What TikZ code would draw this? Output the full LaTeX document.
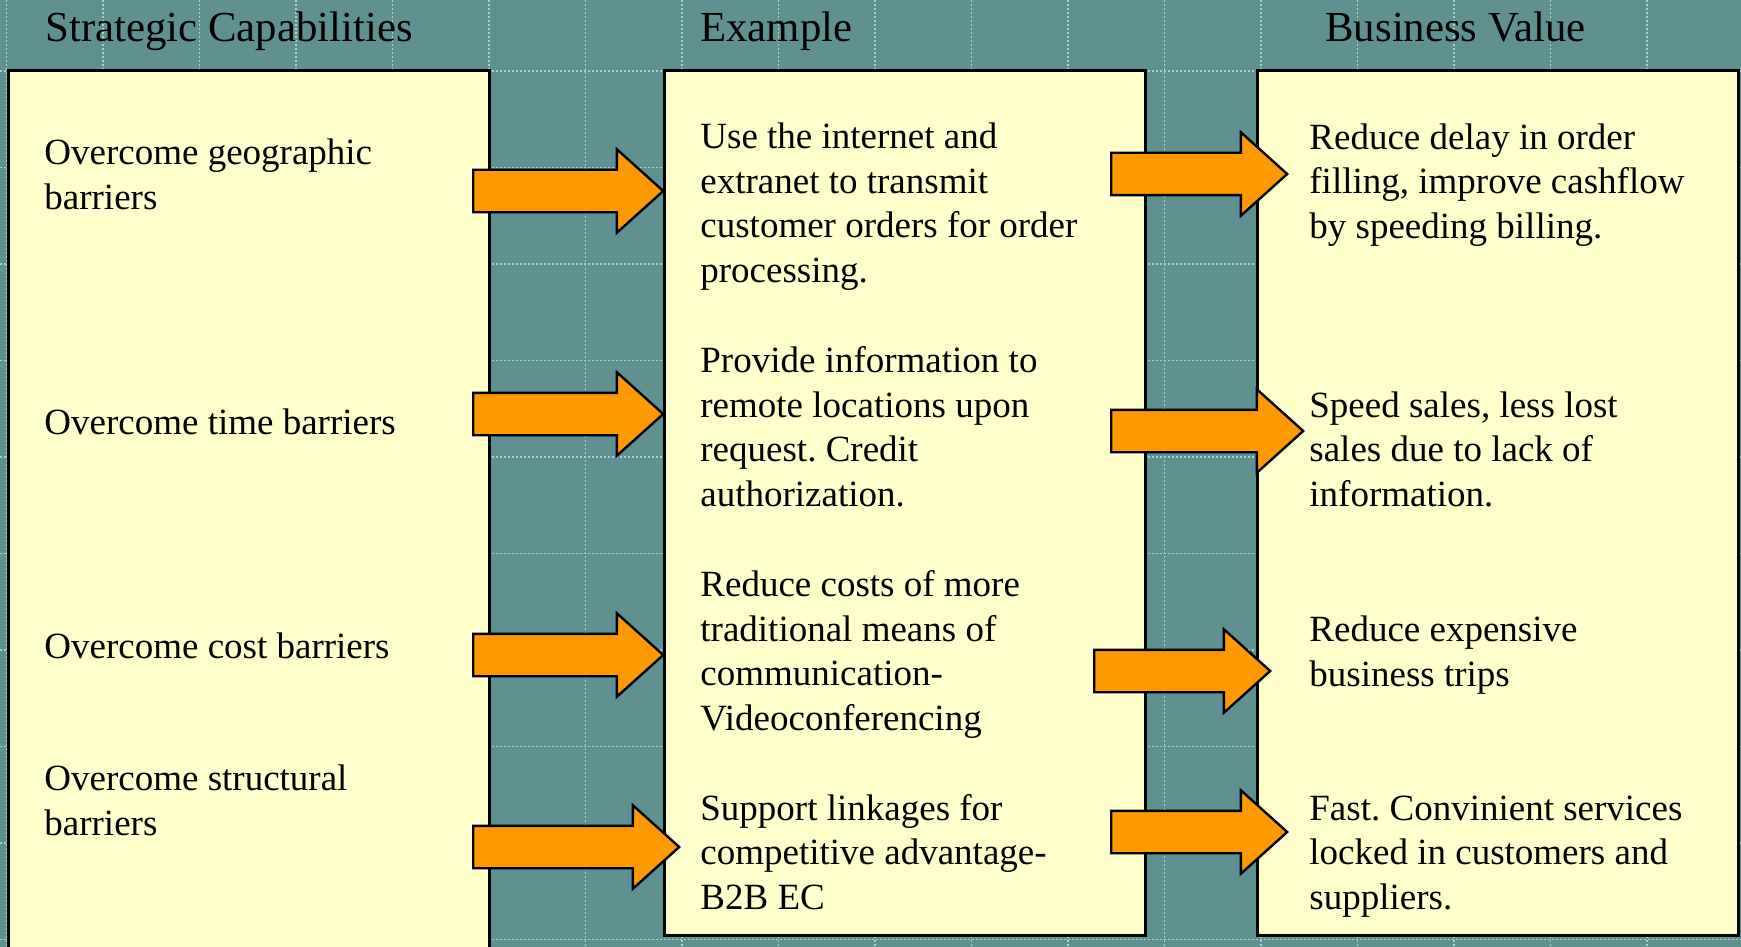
\documentclass[tikz,border=0pt]{standalone}
\usepackage{fontspec}
\setmainfont{Liberation Serif}
\frenchspacing
\usetikzlibrary{shapes.arrows}
\definecolor{slidebg}{RGB}{95,145,144}
\definecolor{boxfill}{RGB}{255,255,204}
\definecolor{arrowfill}{RGB}{255,153,0}
\definecolor{gridcol}{RGB}{165,212,212}

\begin{document}
\begin{tikzpicture}[x=0.5pt,y=-0.5pt,
    colbox/.style={draw=black, line width=1.5pt, fill=boxfill},
    gridline/.style={gridcol, line width=0.6pt, dash pattern=on 1pt off 1pt},
    bigarrow/.style={single arrow, draw=black, line width=1.2pt, fill=arrowfill, inner sep=10pt,
        single arrow head extend=10.25pt, single arrow tip angle=84, anchor=tip, minimum height=#1},
    heading/.style={anchor=base west, inner sep=0pt, font=\fontsize{21.4}{25.7}\selectfont},
    % multi-line cells sit on the baseline of their last line
    celltext/.style={anchor=base west, inner sep=0pt, align=left, font=\fontsize{18.5}{22.2}\selectfont},
]
\useasboundingbox (0,0) rectangle (1741,947);
%Background
\fill[slidebg] (0,0) rectangle (1741,947);
\foreach \gx in {0,...,18}
  \draw[gridline] ({6.5+96.5*\gx},0) -- ++(0,947);
\foreach \gy in {0,...,9}
  \draw[gridline] (0,{71+96.5*\gy}) -- ++(1741,0);

%Columns
\draw[colbox] (8,71) rectangle (489,960);
\draw[colbox] (664,71) rectangle (1145,935);
\draw[colbox] (1257,71) rectangle (1738,935);

%Headings
\node[heading] (headA) at (45,42) {Strategic Capabilities};
\node[heading] (headB) at (700,42) {Example};
\node[heading] (headC) at (1325,42) {Business Value};

%Strategic capabilities
\node[celltext] (cap1) at (44,209) {Overcome geographic\\barriers};
\node[celltext] (cap2) at (44,434) {Overcome time barriers};
\node[celltext] (cap3) at (44,658) {Overcome cost barriers};
\node[celltext] (cap4) at (44,835) {Overcome structural\\barriers};

%Examples
\node[celltext] (ex1) at (700,282) {Use the internet and\\extranet to transmit\\customer orders for order\\processing.};
\node[celltext] (ex2) at (700,506) {Provide information to\\remote locations upon\\request. Credit\\authorization.};
\node[celltext] (ex3) at (700,730) {Reduce costs of more\\traditional means of\\communication-\\Videoconferencing};
\node[celltext] (ex4) at (700,909) {Support linkages for\\competitive advantage-\\B2B EC};

%Business value
\node[celltext] (val1) at (1309,238) {Reduce delay in order\\filling, improve cashflow\\by speeding billing.};
\node[celltext] (val2) at (1309,506) {Speed sales, less lost\\sales due to lack of\\information.};
\node[celltext] (val3) at (1309,686) {Reduce expensive\\business trips};
\node[celltext] (val4) at (1309,909) {Fast. Convinient services\\locked in customers and\\suppliers.};

%Arrows
\node[bigarrow=95pt] (arrA1) at (665,191) {};
\node[bigarrow=95pt] (arrA2) at (665,414) {};
\node[bigarrow=95pt] (arrA3) at (665,655) {};
\node[bigarrow=103pt] (arrA4) at (681,847) {};

\node[bigarrow=88pt] (arrB1) at (1289,174) {};
\node[bigarrow=96pt] (arrB2) at (1305,431) {};
\node[bigarrow=88pt] (arrB3) at (1272,671) {};
\node[bigarrow=88pt] (arrB4) at (1289,832) {};
\end{tikzpicture}
\end{document}
